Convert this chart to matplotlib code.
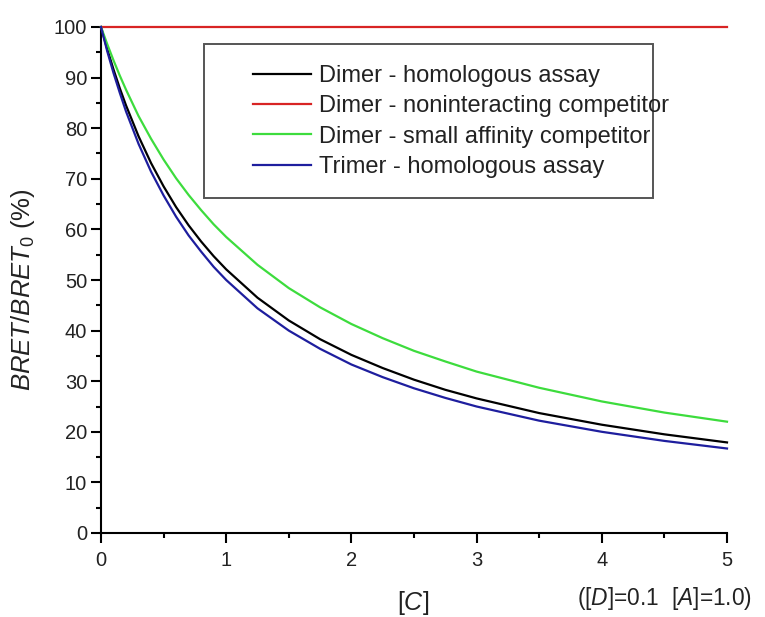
import matplotlib
matplotlib.use("Agg")
import matplotlib.pyplot as plt
from matplotlib.patches import Rectangle
from matplotlib.ticker import MultipleLocator

plt.rcParams['font.family'] = ['Liberation Sans', 'DejaVu Sans']
plt.rcParams['mathtext.fontset'] = 'custom'
plt.rcParams['mathtext.rm'] = 'Liberation Sans'
plt.rcParams['mathtext.it'] = 'Liberation Sans:italic'
plt.rcParams['mathtext.bf'] = 'Liberation Sans:bold'

# ---- data ----
conc = [0, 0.05, 0.1, 0.15, 0.2, 0.3, 0.4, 0.5, 0.6, 0.7, 0.8, 0.9, 1.0,
        1.25, 1.5, 1.75, 2.0, 2.25, 2.5, 2.75, 3.0, 3.5, 4.0, 4.5, 5.0]
dimer_homologous = [100, 95.6, 91.6, 87.9, 84.5, 78.4, 73.1, 68.5, 64.4, 60.8, 57.6, 54.7, 52.1,
                    46.5, 42.0, 38.3, 35.2, 32.6, 30.3, 28.3, 26.6, 23.7, 21.4, 19.5, 17.9]
dimer_nonint = [100] * len(conc)
dimer_small_aff = [100, 96.6, 93.4, 90.4, 87.6, 82.4, 77.9, 73.8, 70.1, 66.8, 63.8, 61.0, 58.5,
                   53.0, 48.4, 44.6, 41.3, 38.5, 36.0, 33.9, 31.9, 28.7, 26.0, 23.8, 22.0]
trimer_homologous = [100, 95.2, 90.9, 87.0, 83.3, 76.9, 71.4, 66.7, 62.5, 58.8, 55.6, 52.6, 50.0,
                     44.4, 40.0, 36.4, 33.3, 30.8, 28.6, 26.7, 25.0, 22.2, 20.0, 18.2, 16.7]

labels = ["Dimer - homologous assay", "Dimer - noninteracting competitor",
          "Dimer - small affinity competitor", "Trimer - homologous assay"]
colors = ["#000000", "#d82424", "#3ddc3d", "#1e1e9e"]
xticks = [0, 1, 2, 3, 4, 5]
yticks = [0, 10, 20, 30, 40, 50, 60, 70, 80, 90, 100]

fig = plt.figure(figsize=(7.65, 6.17), dpi=100)
L, R, B, T = 101 / 765, 727 / 765, 1 - 533 / 617, 1 - 27 / 617
ax = fig.add_axes([L, B, R - L, T - B])

series = [dimer_homologous, dimer_nonint, dimer_small_aff, trimer_homologous]
for ys, lab, c in zip(series, labels, colors):
    ax.plot(conc, ys, color=c, lw=1.6, label=lab, clip_on=False, zorder=3)

ax.set_xlim(0, 5)
ax.set_ylim(0, 100)
ax.set_xticks(xticks)
ax.set_yticks(yticks)
ax.xaxis.set_minor_locator(MultipleLocator(0.5))
ax.yaxis.set_minor_locator(MultipleLocator(5))
for s in ['top', 'right']:
    ax.spines[s].set_visible(False)
for s in ['left', 'bottom']:
    ax.spines[s].set_linewidth(1.5)
ax.tick_params(axis='both', which='major', direction='out', length=7, width=1.5,
               labelsize=14.5, labelcolor='#222222')
ax.tick_params(axis='both', which='minor', direction='out', length=3.5, width=1.5)
ax.tick_params(axis='y', which='major', pad=3)
ax.tick_params(axis='x', which='major', pad=6)

# legend box
bx0, bx1 = (204 - 101) / 626, (653 - 101) / 626
by1, by0 = (533 - 44) / 506, (533 - 198) / 506
ax.add_patch(Rectangle((bx0, by0), bx1 - bx0, by1 - by0, transform=ax.transAxes,
                       fill=True, facecolor='white', edgecolor='#555555', lw=1.4,
                       clip_on=False, zorder=4))
leg = ax.legend(loc='upper left', bbox_to_anchor=((253 - 101) / 626, (533 - 65) / 506),
                frameon=False, fontsize=17, handlelength=2.45, handletextpad=0.33,
                labelspacing=0.35, borderpad=0, borderaxespad=0)
leg.set_zorder(5)
for t in leg.get_texts():
    t.set_color('#222222')

fig.text(23 / 765, 1 - 290 / 617, r'$\mathit{BRET/BRET}_\mathrm{0}$ (%)', rotation=90,
         ha='center', va='center', fontsize=18.5, color='#222222')
fig.text(413 / 765, 1 - 603 / 617, r'[$\mathit{C}$]', ha='center', va='center', fontsize=18,
         color='#222222')
fig.text(577 / 765, 1 - 599 / 617, r'([$\mathit{D}$]=0.1  [$\mathit{A}$]=1.0)',
         ha='left', va='center', fontsize=16.4, color='#222222')

fig.savefig("out.png", dpi=100)
